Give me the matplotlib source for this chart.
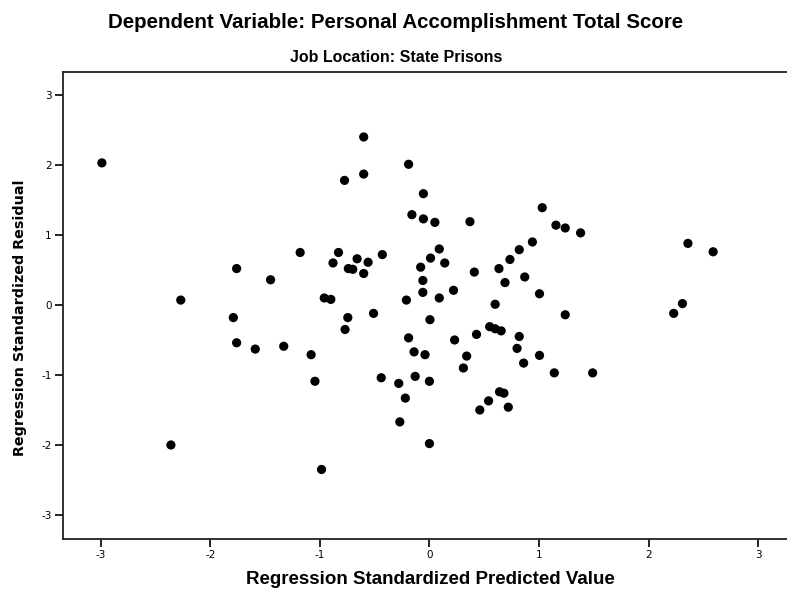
import matplotlib
matplotlib.use("Agg")
import matplotlib.pyplot as plt

predicted = [-2.99, -0.60, -0.19, -0.775, -0.60, -0.055, -0.16, -0.055, 0.05, -1.18,
             -0.83, -0.43, 0.09, -1.76, -0.88, -0.66, -0.56, -0.74, -0.70, -0.60,
             -1.45, 0.01, -0.08, -0.06, -0.06, -0.21, 0.09, -2.27, -0.96, -0.90,
             0.37, 1.03, 1.155, 1.24, 1.38, 2.36, 2.59, 0.14, 0.22, 0.41,
             0.635, 0.69, 0.735, 0.82, 0.94, 0.87, 1.005, 0.60, 2.31, -1.79,
             -0.745, -0.51, -0.77, 0.005, -1.76, -1.59, -1.33, -1.08, -1.045, -0.19,
             -0.14, -0.04, -0.44, -0.28, -0.13, 0.0, -0.22, -0.27, -2.36, -0.985,
             0.0, 2.23, 1.24, 0.23, 0.43, 0.55, 0.60, 0.655, 0.82, 0.80,
             0.86, 1.005, 0.34, 0.31, 1.14, 1.49, 0.64, 0.68, 0.54, 0.46, 0.72]
residual = [2.03, 2.40, 2.01, 1.78, 1.87, 1.59, 1.29, 1.23, 1.18, 0.75,
            0.75, 0.72, 0.80, 0.52, 0.60, 0.66, 0.61, 0.52, 0.51, 0.45,
            0.36, 0.67, 0.54, 0.35, 0.18, 0.07, 0.10, 0.07, 0.10, 0.08,
            1.19, 1.39, 1.14, 1.10, 1.03, 0.88, 0.76, 0.60, 0.21, 0.47,
            0.52, 0.32, 0.65, 0.79, 0.90, 0.40, 0.16, 0.01, 0.02, -0.18,
            -0.18, -0.12, -0.35, -0.21, -0.54, -0.63, -0.59, -0.71, -1.09, -0.47,
            -0.67, -0.71, -1.04, -1.12, -1.02, -1.09, -1.33, -1.67, -2.00, -2.35,
            -1.98, -0.12, -0.14, -0.50, -0.42, -0.31, -0.34, -0.37, -0.45, -0.62,
            -0.83, -0.72, -0.73, -0.90, -0.97, -0.97, -1.24, -1.26, -1.37, -1.50, -1.46]

ticks = [-3, -2, -1, 0, 1, 2, 3]
tick_labels = ["-3", "-2", "-1", "0", "1", "2", "3"]

title = "Dependent Variable: Personal Accomplishment Total Score"
subtitle = "Job Location: State Prisons"
xlabel = "Regression Standardized Predicted Value"
ylabel = "Regression Standardized Residual"

fig = plt.figure(figsize=(7.87, 5.94), dpi=100)
ax = fig.add_axes([63 / 787, (594 - 538.5) / 594, (792 - 63) / 787, (538.5 - 72.3) / 594])
ax.scatter(predicted, residual, s=44, color="black", edgecolors="none", zorder=3)

ax.set_xlim(-3.345, 3.31)
ax.set_ylim(-3.336, 3.324)
ax.set_xticks(ticks)
ax.set_xticklabels(tick_labels)
ax.set_yticks(ticks)
ax.set_yticklabels(tick_labels)
ax.tick_params(direction="out", length=6, width=1.2, labelsize=7.5, colors="black", pad=2,
               top=False, right=False)
for lab in ax.get_xticklabels() + ax.get_yticklabels():
    lab.set_family("DejaVu Sans")
for name in ["left", "bottom", "top"]:
    ax.spines[name].set_linewidth(1.3)
    ax.spines[name].set_color("#222222")
ax.spines["right"].set_visible(False)

fig.text(396 / 787, 1 - 22 / 594, title, ha="center", va="center",
         fontsize=14.8, fontweight="bold", family="Liberation Sans")
fig.text(396 / 787, 1 - 58 / 594, subtitle, ha="center", va="center",
         fontsize=11.5, fontweight="bold", family="Liberation Sans")
fig.text(430 / 787, 1 - 580 / 594, xlabel, ha="center", va="center",
         fontsize=13.5, fontweight="bold", family="Liberation Sans")
fig.text(20 / 787, 1 - 318 / 594, ylabel, ha="center", va="center", rotation=90,
         fontsize=10.3, fontweight="bold", family="DejaVu Sans")

fig.savefig("out.png", dpi=100)
